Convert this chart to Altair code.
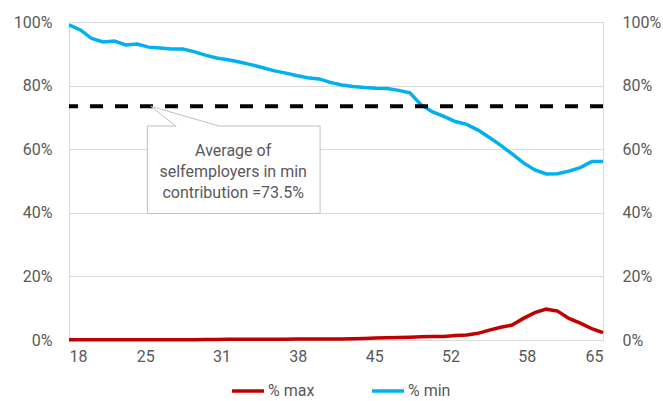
import altair as alt
import pandas as pd

ages = list(range(18, 66))
pct_max = [0.1, 0.1, 0.1, 0.1, 0.1, 0.1, 0.1, 0.1, 0.1, 0.1, 0.1, 0.1,
           0.15, 0.15, 0.2, 0.2, 0.2, 0.2, 0.2, 0.2, 0.3, 0.3, 0.3, 0.3,
           0.3, 0.4, 0.5, 0.6, 0.7, 0.8, 0.9, 1.0, 1.1, 1.1, 1.4, 1.6,
           2.1, 3.1, 4.0, 4.7, 6.8, 8.6, 9.7, 9.1, 6.8, 5.3, 3.6, 2.3]
pct_min = [99.1, 97.5, 94.8, 93.7, 94.0, 92.8, 93.1, 92.1, 91.8, 91.5, 91.5, 90.7,
           89.6, 88.7, 88.1, 87.4, 86.6, 85.7, 84.7, 84.0, 83.2, 82.5, 82.1, 81.0,
           80.2, 79.7, 79.4, 79.2, 79.1, 78.5, 77.7, 73.9, 71.7, 70.3, 68.7, 67.8,
           66.0, 63.7, 61.2, 58.5, 55.7, 53.5, 52.2, 52.3, 53.1, 54.2, 56.1, 56.1]
series_names = ["% max", "% min"]
series_colors = ["#C00000", "#00B0F0"]
x_tick_labels = ["18", "25", "31", "38", "45", "52", "58", "65"]
y_ticks = [0, 0.2, 0.4, 0.6, 0.8, 1.0]
average_value = 0.735
note_lines = ["Average of", "selfemployers in min", "contribution =73.5%"]

rows = []
for a, mx, mn in zip(ages, pct_max, pct_min):
    rows.append({"age": a, "series": series_names[0], "value": mx / 100})
    rows.append({"age": a, "series": series_names[1], "value": mn / 100})
df = pd.DataFrame(rows)
one = pd.DataFrame({"k": [0]})

a0, a1 = ages[0], ages[-1]
n = len(x_tick_labels) - 1
x_ticks = [a0 + (a1 - a0) * k / n for k in range(n + 1)]
label_expr = ("[" + ",".join(f"'{t}'" for t in x_tick_labels) + "]"
              f"[round((datum.value - {a0}) * {n} / {a1 - a0})]")

FONT = "Roboto"
GRAY = "#595959"
GRID = "#D9D9D9"

x_scale = alt.Scale(domain=[a0, a1], nice=False, zero=False)
y_scale = alt.Scale(domain=[0, 1], nice=False)

x_axis = alt.Axis(values=x_ticks, labelExpr=label_expr, ticks=False, grid=False,
                  domainColor=GRID, labelFontSize=16, labelColor=GRAY,
                  labelFont=FONT, labelPadding=8, title=None)

lines = alt.Chart(df).mark_line(strokeWidth=3.5).encode(
    x=alt.X("age:Q", scale=x_scale, axis=x_axis),
    y=alt.Y("value:Q", scale=y_scale,
            axis=alt.Axis(values=y_ticks, format=".0%", orient="left", grid=True,
                          gridColor=GRID, ticks=False, domainColor=GRID,
                          labelFontSize=16, labelColor=GRAY, labelFont=FONT,
                          labelPadding=17, title=None)),
    color=alt.Color("series:N",
                    scale=alt.Scale(domain=series_names, range=series_colors),
                    legend=alt.Legend(orient="none", legendX=161, legendY=351,
                                      direction="horizontal", title=None,
                                      symbolType="stroke", symbolSize=1024,
                                      symbolStrokeWidth=3.5, labelFontSize=16,
                                      labelColor=GRAY, labelFont=FONT,
                                      labelOffset=2, columnPadding=50)),
)

avg = alt.Chart(one).mark_rule(color="black", strokeWidth=4, strokeDash=[13, 12]).encode(
    y=alt.Y(datum=average_value, type="quantitative", scale=y_scale,
            axis=alt.Axis(values=y_ticks, format=".0%", orient="right", grid=False,
                          ticks=False, domainColor=GRID, labelFontSize=16,
                          labelColor=GRAY, labelFont=FONT, labelPadding=19,
                          title=None)),
)

def ydat(v):
    return alt.Y(datum=v, type="quantitative", scale=y_scale, axis=None)

def xdat(v):
    return alt.X(datum=v, type="quantitative")

box_x0, box_x1 = 24.9, 40.1
box_top, box_bot = 0.673, 0.398
tip_x = 25.2
base_l, base_r = 27.4, 31.2

box = alt.Chart(one).mark_rect(fill="white", stroke="#BFBFBF", strokeWidth=1).encode(
    x=xdat(box_x0), x2=alt.X2(datum=box_x1), y=ydat(box_top), y2=alt.Y2(datum=box_bot))

gap = alt.Chart(one).mark_rule(color="white", strokeWidth=2).encode(
    x=xdat(base_l + 0.05), x2=alt.X2(datum=base_r - 0.05), y=ydat(box_top))

ptr_l = alt.Chart(one).mark_rule(color="#BFBFBF", strokeWidth=1).encode(
    x=xdat(tip_x), x2=alt.X2(datum=base_l), y=ydat(average_value), y2=alt.Y2(datum=box_top))
ptr_r = alt.Chart(one).mark_rule(color="#BFBFBF", strokeWidth=1).encode(
    x=xdat(tip_x), x2=alt.X2(datum=base_r), y=ydat(average_value), y2=alt.Y2(datum=box_top))

note = alt.Chart(one).mark_text(font=FONT, fontSize=16, color=GRAY, align="center",
                                baseline="middle", lineBreak="\n", lineHeight=21).encode(
    x=xdat(32.45), y=ydat(0.594), text=alt.value("\n".join(note_lines)))

chart = alt.layer(lines, avg, box, gap, ptr_l, ptr_r, note).resolve_scale(
    y="independent"
).properties(
    width=534, height=318,
    autosize=alt.AutoSizeParams(type="none"),
    padding={"left": 69, "top": 22, "right": 60, "bottom": 61},
).configure_view(stroke=None).configure(background="white")

chart.save("out.html", embed_options={"renderer": "svg", "actions": False})
